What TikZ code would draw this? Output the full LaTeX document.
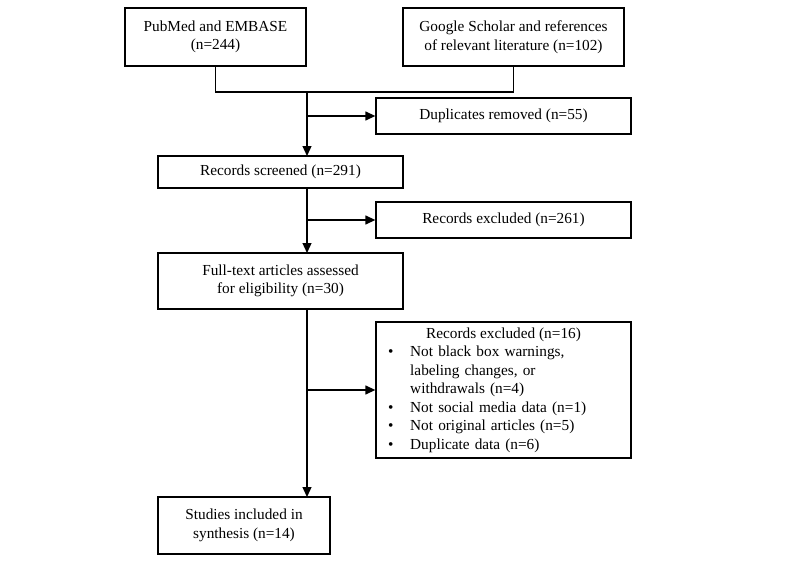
\documentclass[tikz,border=0pt]{standalone}
\usepackage{fontspec}
\setmainfont{Liberation Serif}
\usetikzlibrary{arrows.meta}
\begin{document}
\begin{tikzpicture}[x=1pt,y=-1pt,font=\fontsize{15.3}{18.5}\selectfont,
 box/.style={draw,line width=1.3pt,inner sep=0pt,align=center},
 arr/.style={line width=1.3pt,-{Triangle[length=10pt,width=9pt]}},
 ln/.style={line width=1.3pt}]
\useasboundingbox (0,0) rectangle (800,567);
\node[box,minimum width=181,minimum height=58] (pub) at (215.5,37) {PubMed and EMBASE\\(n=244)};
\node[box,minimum width=221,minimum height=58] (goo) at (513.5,37) {Google Scholar and references\\of relevant literature (n=102)};
\node[box,minimum width=255,minimum height=36] (dup) at (503.5,116) {Duplicates removed (n=55)};
\node[box,minimum width=245,minimum height=32] (scr) at (280.5,172) {Records screened (n=291)};
\node[box,minimum width=255,minimum height=36] (ex1) at (503.5,220) {Records excluded (n=261)};
\node[box,minimum width=245,minimum height=56] (ft) at (280.5,281) {Full-text articles assessed\\for eligibility (n=30)};
\node[box,minimum width=255,minimum height=136] (ex2) at (503.5,390) {};
\node[anchor=north] (t2) at (503.5,324) {Records excluded (n=16)};
\node[anchor=north west,align=left,text width=240,inner sep=0pt] (lst) at (388,346) {%
\makebox[22pt][l]{•}Not black box warnings,\\
\hspace*{22pt}labeling changes, or\\
\hspace*{22pt}withdrawals (n=4)\\
\makebox[22pt][l]{•}Not social media data (n=1)\\
\makebox[22pt][l]{•}Not original articles (n=5)\\
\makebox[22pt][l]{•}Duplicate data (n=6)};
\node[box,minimum width=172,minimum height=57] (stu) at (244,525.5) {Studies included in\\synthesis (n=14)};
\coordinate (m1) at (215.5,92);
\coordinate (m2) at (513.5,92);
\coordinate (mc) at (307,92);
\draw[ln] (pub.south) -- (m1) -- (m2) -- (goo.south);
\draw[arr] (mc) -- (307,156);
\draw[arr] (307,116) -- (dup.west);
\draw[arr] (307,188) -- (307,253);
\draw[arr] (307,220) -- (ex1.west);
\draw[arr] (307,309) -- (307,497);
\draw[arr] (307,390) -- (ex2.west);
\end{tikzpicture}
\end{document}
